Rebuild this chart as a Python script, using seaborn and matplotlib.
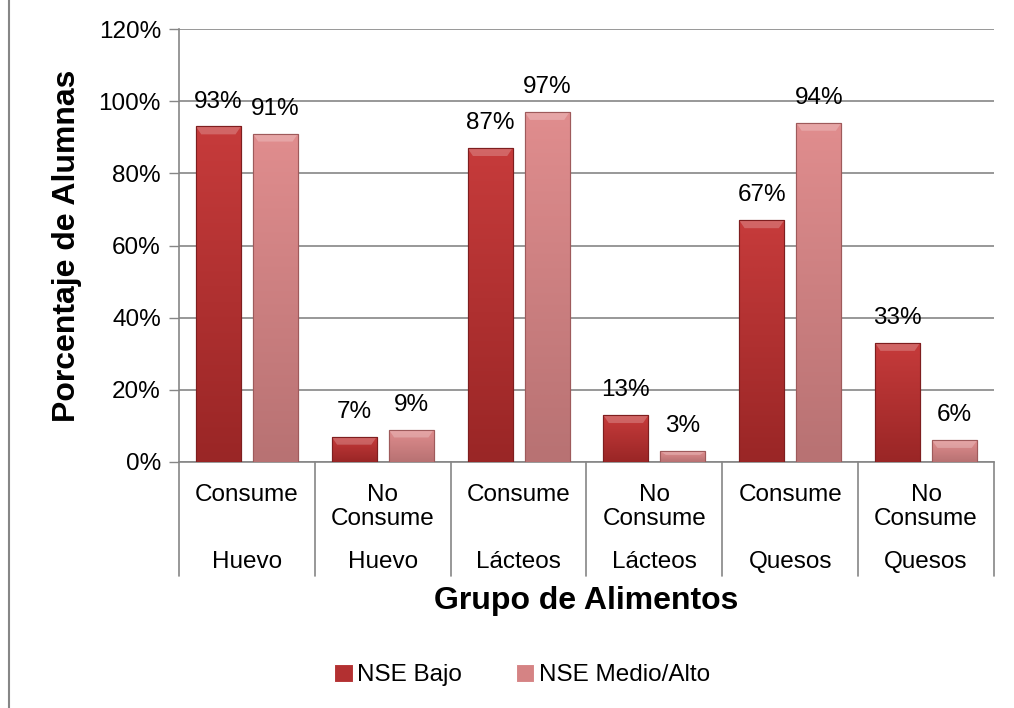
import matplotlib
matplotlib.use("Agg")
import matplotlib.pyplot as plt
import matplotlib.transforms as mtransforms
from matplotlib.lines import Line2D
from matplotlib.patches import Polygon
from matplotlib.colors import LinearSegmentedColormap
import seaborn as sns
import pandas as pd
import numpy as np

# ---- data ----
groups = ["Huevo", "Huevo", "Lácteos", "Lácteos", "Quesos", "Quesos"]
subcats = ["Consume", "No\nConsume", "Consume", "No\nConsume", "Consume", "No\nConsume"]
series_names = ["NSE Bajo", "NSE Medio/Alto"]
nse_bajo = [93, 7, 87, 13, 67, 33]
nse_medio_alto = [91, 9, 97, 3, 94, 6]
y_ticks = [0, 20, 40, 60, 80, 100, 120]

sns.set_theme(style="white")
plt.rcParams["font.family"] = ["Liberation Sans", "DejaVu Sans"]
plt.rcParams["text.color"] = "black"
plt.rcParams["xtick.color"] = "black"
plt.rcParams["ytick.color"] = "black"
plt.rcParams["axes.labelcolor"] = "black"

keys = [f"{s}|{g}" for s, g in zip(subcats, groups)]
df = pd.DataFrame({
    "cat": keys * 2,
    "val": nse_bajo + nse_medio_alto,
    "serie": [series_names[0]] * 6 + [series_names[1]] * 6,
})

colors = ["#B33031", "#D58384"]
edges = ["#7E1E1F", "#9E5A5B"]
grad = [("#9A2626", "#C63B3B"), ("#B87273", "#E08D8E")]

fig = plt.figure(figsize=(10.14, 7.08), dpi=100)
ax = fig.add_axes([179 / 1014, 1 - 462 / 708, (994 - 179) / 1014, (462 - 29) / 708])

sns.barplot(data=df, x="cat", y="val", hue="serie", order=keys,
            hue_order=series_names, palette=colors, width=0.84, gap=0.21,
            ax=ax, saturation=1, legend=True, linewidth=0.8)

ax.set_ylim(0, 120)
ax.set_xlim(-0.5, 5.5)

for cont, ec, (c0, c1) in zip(ax.containers, edges, grad):
    cmap = LinearSegmentedColormap.from_list("g", [c0, c1])
    for p in cont:
        p.set_edgecolor(ec)
        p.set_zorder(3)
        x0, y0 = p.get_x(), p.get_y()
        w, h = p.get_width(), p.get_height()
        g = np.linspace(0, 1, 64).reshape(-1, 1)
        im = ax.imshow(g, cmap=cmap, origin="lower", extent=(x0, x0 + w, y0, y0 + h),
                       aspect="auto", zorder=3.5, interpolation="bilinear")
        im.set_clip_path(p)
        d = min(2.2, h * 0.35)
        dx = w * 0.12
        hl = Polygon([(x0, y0 + h), (x0 + w, y0 + h), (x0 + w - dx, y0 + h - d), (x0 + dx, y0 + h - d)],
                     closed=True, facecolor="white", alpha=0.22, edgecolor="none", zorder=4)
        ax.add_patch(hl)
        ax.add_patch(matplotlib.patches.Rectangle((x0, y0), w, h, fill=False, edgecolor=ec,
                                                  linewidth=0.8, zorder=4.5))
    ax.bar_label(cont, labels=[f"{v:.0f}%" for v in cont.datavalues], padding=10, fontsize=17.5, color="black")

ax.set_yticks(y_ticks)
ax.set_yticklabels([f"{t}%" for t in y_ticks], fontsize=17.5)
ax.tick_params(axis="y", length=7, width=1, color="#868686", direction="out", pad=6, left=True)
ax.set_xticks(range(6))
ax.set_xticklabels(subcats, fontsize=17.5, linespacing=1.12)
ax.tick_params(axis="x", length=0, pad=16)
ax.yaxis.grid(True, color="#868686", linewidth=1.2, zorder=0)
ax.set_axisbelow(True)
for s in ["top", "right"]:
    ax.spines[s].set_visible(False)
for s in ["left", "bottom"]:
    ax.spines[s].set_color("#868686")
    ax.spines[s].set_linewidth(1.2)

ax.set_xlabel("")
ax.set_ylabel("Porcentaje de Alumnas", fontsize=23, fontweight="bold", labelpad=12)

# group labels and separators
trans = mtransforms.blended_transform_factory(ax.transData, ax.transAxes)
for i, g in enumerate(groups):
    ax.text(i, (462 - 562) / 433, g, transform=trans, ha="center", va="center", fontsize=17.5)
for b in [i - 0.5 for i in range(7)]:
    ax.add_line(Line2D([b, b], [0, (462 - 576) / 433], transform=trans, color="#868686",
                       linewidth=1.2, clip_on=False))

fig.text((179 + 994) / 2 / 1014, 1 - 601 / 708, "Grupo de Alimentos", ha="center", va="center",
         fontsize=23, fontweight="bold")

# legend
handles, labels = ax.get_legend_handles_labels()
ax.legend(handles, labels, loc="center", bbox_to_anchor=(0.515, 1 - 675 / 708),
          bbox_transform=fig.transFigure, ncol=2, frameon=False, fontsize=17.5,
          handlelength=0.75, handleheight=0.75, handletextpad=0.2, columnspacing=2.2)

# left border of the chart frame
fig.add_artist(Line2D([9 / 1014, 9 / 1014], [0, 1], transform=fig.transFigure, color="#868686", linewidth=1.5))

fig.savefig("out.png", dpi=100)
